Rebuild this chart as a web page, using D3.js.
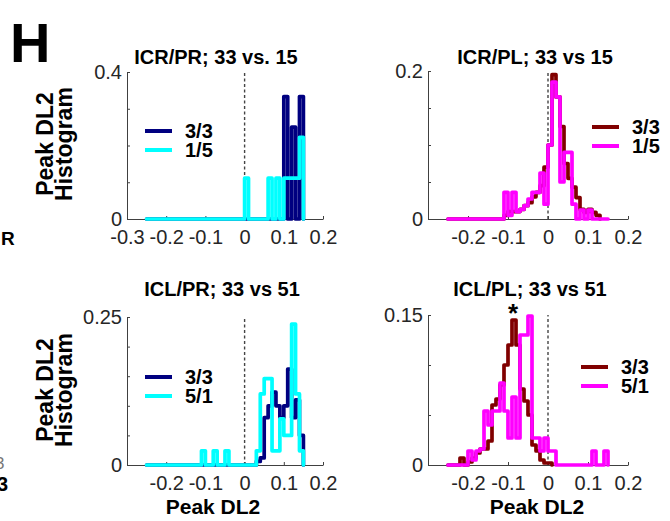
<!DOCTYPE html>
<html>
<head>
<meta charset="utf-8">
<script src="https://cdn.jsdelivr.net/npm/d3@7"></script>
<style>
  body { margin: 0; background: #fff; }
  svg { display: block; font-family: 'Liberation Sans', Arial, Helvetica, sans-serif; }
  .axis path, .axis line { stroke: #404040; stroke-width: 1; }
  .axis .tick text { font-size: 20px; fill: #262626; font-family: 'Liberation Sans', Arial, sans-serif; }
  .title, .legend-text, .label { font-weight: bold; fill: #000; }
</style>
</head>
<body>
<div id="chart"></div>
<script>
// histogram bins: left edges start at binStart, each binWidth wide
const binStart = -0.25;
const binWidth = 0.01;

// ICR/PR; 33 vs. 15
const icrPr33 = [
  0, 0, 0, 0, 0, 0, 0, 0, 0, 0,
  0, 0, 0, 0, 0, 0, 0, 0, 0, 0,
  0, 0, 0, 0, 0, 0, 0, 0, 0, 0,
  0, 0, 0, 0, 0, 0.333, 0, 0.25, 0, 0.333,
];
const icrPr15 = [
  0, 0, 0, 0, 0, 0, 0, 0, 0, 0,
  0, 0, 0, 0, 0, 0, 0, 0, 0, 0,
  0, 0, 0, 0, 0, 0.111, 0, 0, 0, 0,
  0, 0.111, 0, 0.111, 0, 0.111, 0.111, 0.111, 0.111, 0.222,
];

// ICR/PL; 33 vs 15
const icrPl33 = [
  0, 0, 0, 0, 0, 0, 0, 0, 0, 0,
  0, 0, 0, 0, 0.005, 0.01, 0.01, 0.01, 0.013, 0.018,
  0.022, 0.03, 0.036, 0.045, 0.07, 0.1, 0.195, 0.165, 0.125, 0.075,
  0.055, 0.043, 0.029, 0.013, 0.009, 0.013, 0.009, 0.005,
];
const icrPl15 = [
  0, 0, 0, 0, 0, 0, 0, 0, 0, 0,
  0, 0, 0, 0, 0.036, 0.005, 0.036, 0.01, 0.013, 0.018,
  0.027, 0.036, 0.036, 0.062, 0.02, 0.1, 0.185, 0.165, 0.05, 0.09,
  0.09, 0.02, 0, 0.012, 0, 0.012, 0, 0, 0, 0,
];

// ICL/PR; 33 vs 51
const iclPr33 = [
  0, 0, 0, 0, 0, 0, 0, 0, 0, 0,
  0, 0, 0, 0, 0, 0, 0, 0, 0, 0,
  0, 0, 0, 0, 0, 0, 0, 0, 0.006, 0.012,
  0.08, 0.1, 0.123, 0.1, 0.08, 0.1, 0.162, 0.08, 0.11, 0.05,
];
const iclPr51 = [
  0, 0, 0, 0, 0, 0, 0, 0, 0, 0,
  0, 0, 0, 0, 0.024, 0, 0, 0.024, 0, 0,
  0.024, 0, 0, 0, 0, 0, 0, 0, 0.024, 0.12,
  0.146, 0.146, 0.024, 0.024, 0.078, 0.05, 0.05, 0.238, 0.12, 0.024,
];

// ICL/PL; 33 vs 51
const iclPl33 = [
  0, 0, 0, 0.007, 0, 0.003, 0.007, 0.012, 0.016, 0.016,
  0.024, 0.06, 0.066, 0.08, 0.1, 0.12, 0.145, 0.12, 0.076, 0.064,
  0.05, 0.02, 0.014, 0.005, 0.002, 0.002,
];
const iclPl51 = [
  0, 0, 0, 0, 0, 0.014, 0.005, 0.014, 0.016, 0.054,
  0.04, 0.054, 0.054, 0.082, 0.054, 0.027, 0.068, 0.027, 0.13, 0.13,
  0.149, 0.027, 0.027, 0.014, 0.027, 0.014, 0.014, 0, 0, 0,
  0, 0, 0, 0, 0, 0, 0.014, 0, 0, 0.014,
];

const panelTitles = ['ICR/PR; 33 vs. 15', 'ICR/PL; 33 vs 15', 'ICL/PR; 33 vs 51', 'ICL/PL; 33 vs 51'];
const legendLabels = [['3/3', '1/5'], ['3/3', '1/5'], ['3/3', '5/1'], ['3/3', '5/1']];
const yMaxValues = [0.4, 0.2, 0.25, 0.15];
const yTickSteps = [0.1, 0.05, 0.05, 0.05];
const xTicksFirst = [-0.3, -0.2, -0.1, 0, 0.1, 0.2];
const xTicksOther = [-0.2, -0.1, 0, 0.1, 0.2];

const WIDTH = 670;
const HEIGHT = 521;

function stairPoints(values) {
  const pts = [[binStart, 0]];
  values.forEach((v, i) => {
    pts.push([binStart + i * binWidth, v]);
    pts.push([binStart + (i + 1) * binWidth, v]);
  });
  pts.push([binStart + values.length * binWidth, 0]);
  return pts;
}

class HistPanel {
  constructor(svg, options) {
    this.svg = svg;
    this.options = options;
    this.setupUtils();
    this.setupDOM();
  }

  setupUtils() {
    const o = this.options;
    this.x = d3.scaleLinear().domain([-0.3, 0.2]).range([o.left, o.right]);
    this.y = d3.scaleLinear().domain([0, o.yMax]).range([o.bottom, o.top]);
  }

  setupDOM() {
    this.g = this.svg.append('g').attr('class', 'panel');
  }

  drawAxes() {
    const o = this.options;
    const yTicks = d3.range(0, o.yMax + 1e-9, o.yStep).map((d) => +d.toFixed(3));

    const xAxis = d3.axisBottom(this.x)
      .tickValues(o.xTicks)
      .tickSize(-3)
      .tickSizeOuter(0)
      .tickPadding(11)
      .tickFormat((d) => String(+d.toFixed(1)));
    this.g.append('g')
      .attr('class', 'axis x-axis')
      .attr('transform', `translate(0,${o.bottom})`)
      .call(xAxis);

    const yAxis = d3.axisLeft(this.y)
      .tickValues(yTicks)
      .tickSize(-3)
      .tickSizeOuter(0)
      .tickPadding(5)
      .tickFormat((d) => ((d === 0 || Math.abs(d - o.yMax) < 1e-9) ? String(d) : ''));
    this.g.append('g')
      .attr('class', 'axis y-axis')
      .attr('transform', `translate(${o.left},0)`)
      .call(yAxis);

    // dashed zero line
    this.g.append('line')
      .attr('x1', this.x(0))
      .attr('x2', this.x(0))
      .attr('y1', o.bottom)
      .attr('y2', o.top)
      .attr('stroke', '#444')
      .attr('stroke-width', 1.4)
      .attr('stroke-dasharray', '3,2.5');
  }

  drawGraph(series) {
    const line = d3.line()
      .x((d) => this.x(d[0]))
      .y((d) => this.y(d[1]));

    this.g.selectAll('path.hist')
      .data(series)
      .enter()
      .append('path')
      .attr('class', 'hist')
      .attr('d', (d) => line(stairPoints(d.values)))
      .attr('fill', 'none')
      .attr('stroke', (d) => d.color)
      .attr('stroke-width', 3.7)
      .attr('stroke-linejoin', 'round')
      .attr('stroke-linecap', 'round');
  }

  drawTitle(text, cx, baseline) {
    this.g.append('text')
      .attr('class', 'title')
      .attr('x', cx)
      .attr('y', baseline)
      .attr('text-anchor', 'middle')
      .style('font-size', '20px')
      .text(text);
  }

  drawLegend(series, labels, lx, ly) {
    const rowH = 19;
    series.forEach((s, i) => {
      this.g.append('line')
        .attr('x1', lx)
        .attr('x2', lx + 27)
        .attr('y1', ly + i * rowH)
        .attr('y2', ly + i * rowH)
        .attr('stroke', s.color)
        .attr('stroke-width', 4);
      this.g.append('text')
        .attr('class', 'legend-text')
        .attr('x', lx + 40)
        .attr('y', ly + i * rowH + 7)
        .style('font-size', '20px')
        .text(labels[i]);
    });
  }
}

const svg = d3.select('#chart').append('svg')
  .attr('width', WIDTH)
  .attr('height', HEIGHT)
  .style('background', '#fff');

const navy = '#000080';
const cyan = '#00ffff';
const maroon = '#800000';
const magenta = '#ff00ff';

const panelSeries = [
  [{ values: icrPr33, color: navy }, { values: icrPr15, color: cyan }],
  [{ values: icrPl33, color: maroon }, { values: icrPl15, color: magenta }],
  [{ values: iclPr33, color: navy }, { values: iclPr51, color: cyan }],
  [{ values: iclPl33, color: maroon }, { values: iclPl51, color: magenta }],
];

const layouts = [
  { left: 127, right: 323, top: 72, bottom: 219, xTicks: xTicksFirst, titleX: 216, titleY: 64, legX: 145, legY: 131 },
  { left: 428, right: 628, top: 71, bottom: 219, xTicks: xTicksOther, titleX: 535, titleY: 64, legX: 592, legY: 127 },
  { left: 127, right: 323, top: 317, bottom: 465, xTicks: xTicksOther, titleX: 222, titleY: 296, legX: 145, legY: 377 },
  { left: 428, right: 628, top: 315, bottom: 465, xTicks: xTicksOther, titleX: 530, titleY: 296, legX: 581, legY: 367 },
];

layouts.forEach((lay, i) => {
  const panel = new HistPanel(svg, Object.assign({}, lay, { yMax: yMaxValues[i], yStep: yTickSteps[i] }));
  panel.drawAxes();
  panel.drawGraph(panelSeries[i]);
  panel.drawTitle(panelTitles[i], lay.titleX, lay.titleY);
  panel.drawLegend(panelSeries[i], legendLabels[i], lay.legX, lay.legY);
});

// significance star on ICL/PL
svg.append('text')
  .attr('class', 'label')
  .attr('x', 513)
  .attr('y', 322)
  .attr('text-anchor', 'middle')
  .style('font-size', '26px')
  .text('*');

// panel letter and shared labels
svg.append('text')
  .attr('class', 'label')
  .attr('x', 10)
  .attr('y', 62)
  .style('font-size', '56px')
  .text('H');

[144, 390].forEach((cy) => {
  svg.append('text')
    .attr('class', 'label')
    .attr('transform', `translate(53,${cy}) rotate(-90)`)
    .attr('text-anchor', 'middle')
    .style('font-size', '23px')
    .text('Peak DL2');
  svg.append('text')
    .attr('class', 'label')
    .attr('transform', `translate(72,${cy}) rotate(-90)`)
    .attr('text-anchor', 'middle')
    .style('font-size', '23px')
    .text('Histogram');
});

[213, 537].forEach((cx) => {
  svg.append('text')
    .attr('class', 'label')
    .attr('x', cx)
    .attr('y', 514)
    .attr('text-anchor', 'middle')
    .style('font-size', '21px')
    .text('Peak DL2');
});

// fragments of the neighbouring panel, cut at the left edge
svg.append('text')
  .attr('class', 'label')
  .attr('x', 1)
  .attr('y', 245)
  .style('font-size', '19px')
  .text('R');
svg.append('text')
  .attr('x', -5)
  .attr('y', 469)
  .style('font-size', '17px')
  .attr('fill', '#777')
  .text('3');
svg.append('text')
  .attr('class', 'label')
  .attr('x', -3)
  .attr('y', 491)
  .style('font-size', '20px')
  .text('3');
</script>
</body>
</html>
